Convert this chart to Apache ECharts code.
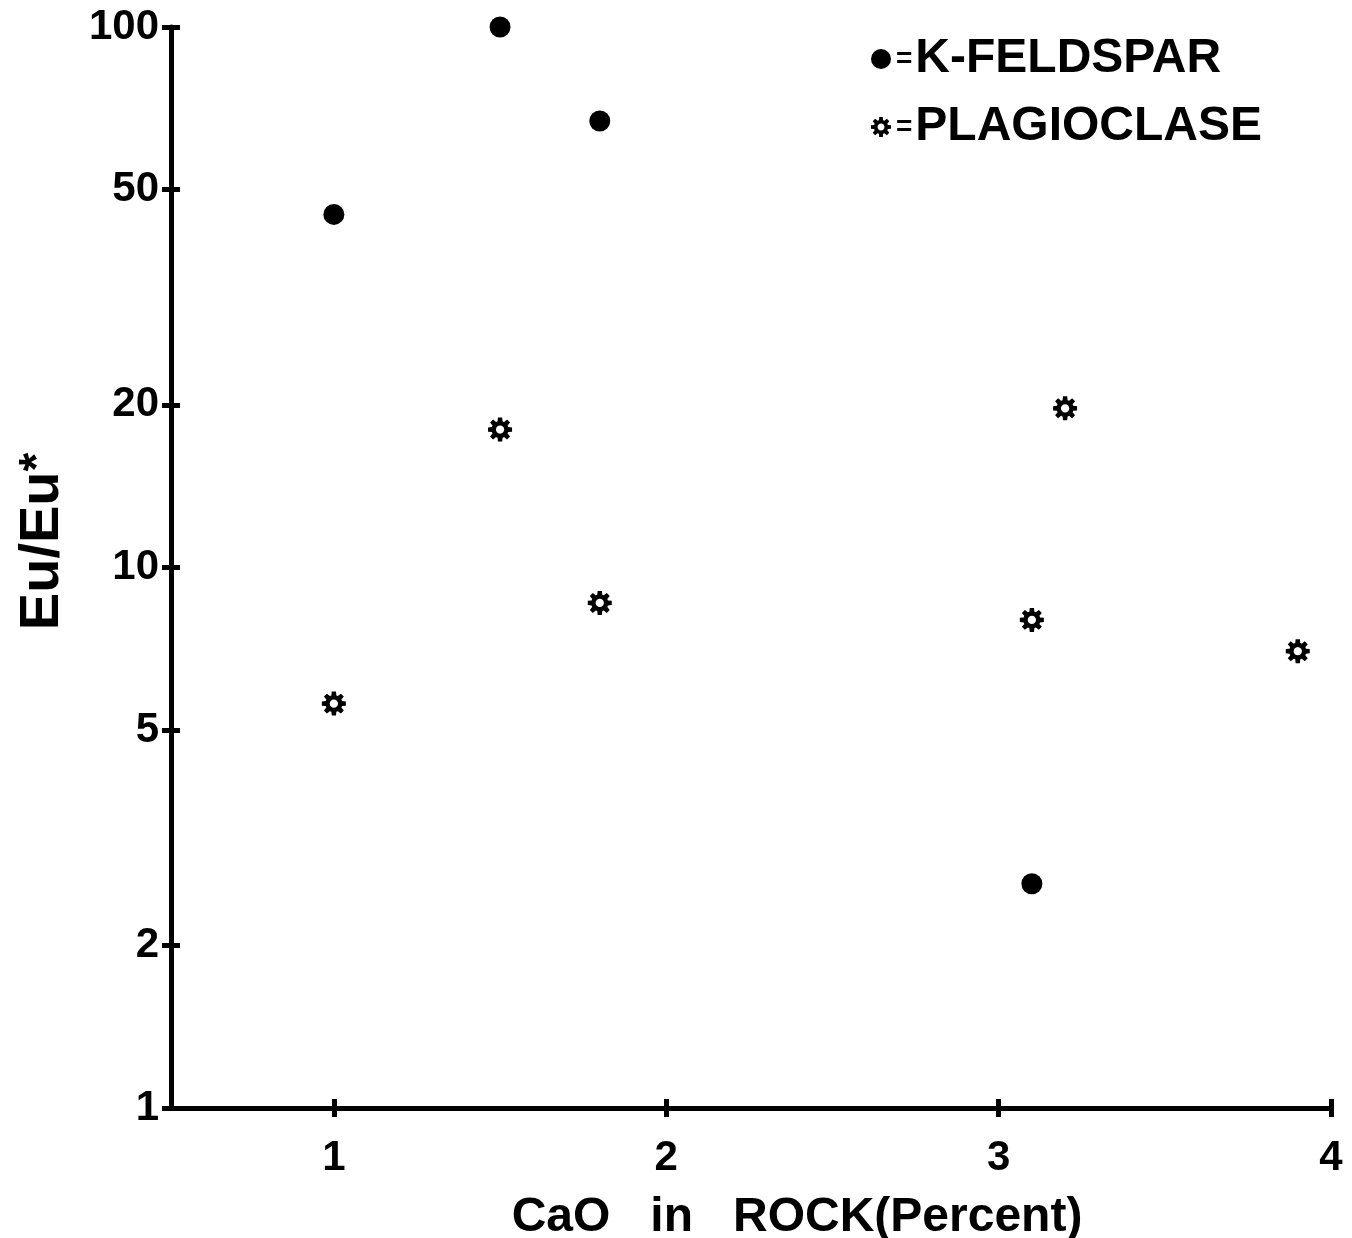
<!DOCTYPE html>
<html>
<head>
<meta charset="utf-8">
<script src="https://cdn.jsdelivr.net/npm/echarts@6/dist/echarts.min.js"></script>
<style>
html,body{margin:0;padding:0;background:#fff;}
#chart{width:1352px;height:1238px;}
</style>
</head>
<body>
<div id="chart"></div>
<script>
// ---- data ----
const kfeldsparCaO = [1.0, 1.5, 1.8, 3.1];
const kfeldsparEu  = [45, 100, 67, 2.6];
const plagCaO = [1.0, 1.5, 1.8, 3.1, 3.2, 3.9];
const plagEu  = [5.6, 18, 8.6, 8.0, 19.7, 7.0];
const xTickValues = [1, 2, 3, 4];
const yTickValues = [1, 2, 5, 10, 20, 50, 100];
const seriesNames = ['K-FELDSPAR', 'PLAGIOCLASE'];

// gear-shaped symbol (8 teeth with a hole)
function gearPath() {
  const R = 10, r = 7.0, h = 3.4, teeth = 8;
  const d2r = Math.PI / 180;
  const pts = [];
  for (let i = 0; i < teeth; i++) {
    const a = -90 + i * 360 / teeth;
    [[r, a - 17], [R, a - 10], [R, a + 10], [r, a + 17], [r, a + 22.5]].forEach(p => {
      pts.push([p[0] * Math.cos(p[1] * d2r), p[0] * Math.sin(p[1] * d2r)]);
    });
  }
  let s = 'M' + pts.map(p => p[0].toFixed(2) + ' ' + p[1].toFixed(2)).join(' L') + ' Z';
  const hole = [];
  for (let i = 0; i < 16; i++) {
    const a = -i * 360 / 16 * d2r;
    hole.push([h * Math.cos(a), h * Math.sin(a)]);
  }
  s += ' M' + hole.map(p => p[0].toFixed(2) + ' ' + p[1].toFixed(2)).join(' L') + ' Z';
  return 'path://' + s;
}
const gear = gearPath();

const FONT = '"Liberation Sans", Arial, Helvetica, sans-serif';
const INK = '#000000';

const chart = echarts.init(document.getElementById('chart'), null, {renderer: 'canvas'});
chart.setOption({
  backgroundColor: '#ffffff',
  animation: false,
  textStyle: {fontFamily: FONT, color: INK},
  grid: {left: 171, right: 21, top: 27, bottom: 130, containLabel: false, outerBoundsMode: 'none'},
  legend: {
    orient: 'vertical',
    left: 866,
    top: 30,
    itemGap: 20,
    itemWidth: 20,
    itemHeight: 20,
    textStyle: {
      fontFamily: FONT, fontSize: 48, fontWeight: 'bold', color: INK,
      rich: {eq: {fontFamily: FONT, fontSize: 28, fontWeight: 'bold', color: INK, padding: [0, 3, 0, 0]}}
    },
    formatter: name => '{eq|=}' + name,
    data: [
      {name: seriesNames[0], icon: 'circle', itemStyle: {opacity: 1}},
      {name: seriesNames[1], icon: gear, itemStyle: {opacity: 1}}
    ]
  },
  xAxis: [{
    type: 'value',
    min: 0.51, max: 4,
    position: 'bottom',
    name: 'CaO   in   ROCK(Percent)',
    nameLocation: 'middle',
    nameGap: 86,
    nameTextStyle: {fontFamily: FONT, fontSize: 48, fontWeight: 'bold', color: INK, padding: [0, 0, 0, 92]},
    axisLine: {show: true, lineStyle: {color: INK, width: 5}},
    axisTick: {show: true, inside: false, length: 9, lineStyle: {color: INK, width: 5}, customValues: xTickValues},
    axisLabel: {show: true, customValues: xTickValues, margin: 29, fontFamily: FONT, fontSize: 42, fontWeight: 'bold', color: INK},
    splitLine: {show: false}
  }, {
    type: 'value',
    min: 0.51, max: 4,
    position: 'bottom',
    axisLine: {show: false},
    axisTick: {show: true, inside: true, length: 9, lineStyle: {color: INK, width: 5}, customValues: xTickValues},
    axisLabel: {show: false},
    splitLine: {show: false}
  }],
  yAxis: [{
    type: 'log',
    logBase: 10,
    min: 1, max: 100,
    position: 'left',
    name: 'Eu/Eu{s|*}',
    nameLocation: 'middle',
    nameGap: 100,
    nameRotate: 90,
    nameTextStyle: {
      fontFamily: FONT, fontSize: 56, fontWeight: 'bold', color: INK, padding: [0, 0, 0, 52],
      rich: {s: {fontFamily: FONT, fontSize: 48, fontWeight: 'bold', color: INK, verticalAlign: 'top'}}
    },
    axisLine: {show: true, lineStyle: {color: INK, width: 5}},
    axisTick: {show: true, inside: false, length: 9, lineStyle: {color: INK, width: 5}, customValues: yTickValues},
    axisLabel: {show: true, customValues: yTickValues, margin: 12, fontFamily: FONT, fontSize: 42, fontWeight: 'bold', color: INK},
    splitLine: {show: false}
  }, {
    type: 'log',
    logBase: 10,
    min: 1, max: 100,
    position: 'left',
    axisLine: {show: false},
    axisTick: {show: true, inside: true, length: 9, lineStyle: {color: INK, width: 5}, customValues: yTickValues},
    axisLabel: {show: false},
    splitLine: {show: false}
  }],
  series: [{
    name: seriesNames[0],
    type: 'scatter',
    clip: false,
    xAxisIndex: 0, yAxisIndex: 0,
    symbol: 'circle',
    symbolSize: 21,
    itemStyle: {color: INK, opacity: 1},
    data: kfeldsparCaO.map((x, i) => [x, kfeldsparEu[i]])
  }, {
    name: seriesNames[1],
    type: 'scatter',
    clip: false,
    xAxisIndex: 0, yAxisIndex: 0,
    symbol: gear,
    symbolSize: 24,
    itemStyle: {color: INK, opacity: 1},
    data: plagCaO.map((x, i) => [x, plagEu[i]])
  }]
});
</script>
</body>
</html>
